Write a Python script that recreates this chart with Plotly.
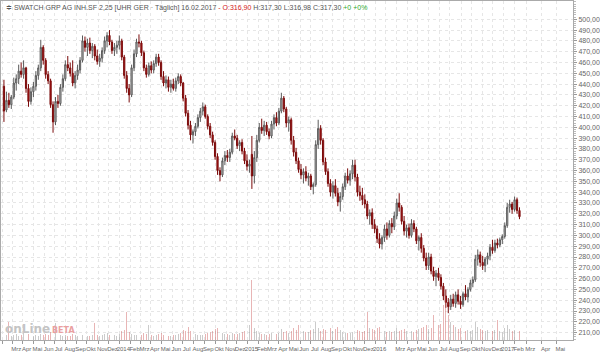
import numpy as np
import pandas as pd
import plotly.graph_objects as go

# ---------------- data (weekly candles) ----------------
start_week = "2013-02-04"
last_day = "2017-02-16"

opens = [438, 416, 425, 421, 428, 441, 445, 452, 449, 455,
         436, 424, 433, 438, 448, 455, 474, 462, 449, 443,
         421, 405, 424, 422, 437, 445, 458, 455, 450, 441,
         448, 453, 462, 480, 474, 478, 471, 475, 466, 461,
         464, 471, 480, 485, 479, 471, 474, 476, 480, 465,
         448, 436, 430, 455, 468, 479, 478, 469, 455, 449,
         457, 453, 459, 465, 460, 447, 441, 444, 437, 440,
         436, 443, 447, 441, 427, 413, 402, 393, 396, 401,
         409, 415, 419, 410, 401, 393, 386, 373, 360, 356,
         369, 374, 372, 377, 392, 390, 383, 386, 378, 369,
         364, 375, 355, 372, 388, 400, 397, 402, 396, 392,
         403, 409, 404, 415, 427, 417, 404, 407, 388, 377,
         369, 361, 356, 359, 353, 355, 345, 347, 384, 399,
         388, 368, 359, 348, 340, 346, 339, 331, 336, 345,
         355, 351, 357, 365, 354, 340, 337, 333, 329, 318,
         321, 310, 306, 297, 292, 298, 306, 300, 311, 308,
         318, 330, 326, 313, 304, 307, 300, 311, 306, 295,
         298, 288, 279, 272, 280, 267, 262, 265, 261, 253,
         244, 238, 234, 241, 237, 245, 239, 236, 246, 243,
         250, 256, 259, 278, 282, 275, 272, 278, 281, 289,
         286, 293, 291, 296, 299, 309, 326, 329, 324, 333,
         323]
highs = [444, 433, 432, 430, 446, 449, 458, 460, 462, 456,
         440, 437, 442, 452, 458, 481, 476, 464, 452, 445,
         424, 428, 430, 440, 449, 462, 466, 460, 462, 452,
         458, 465, 485, 484, 482, 483, 478, 477, 472, 468,
         474, 484, 488, 490, 481, 478, 480, 485, 482, 467,
         452, 440, 458, 472, 482, 486, 480, 471, 458, 460,
         461, 462, 468, 468, 462, 452, 448, 447, 444, 445,
         446, 450, 449, 442, 430, 416, 406, 398, 404, 412,
         418, 423, 421, 412, 404, 396, 388, 376, 363, 372,
         378, 379, 380, 395, 398, 393, 388, 389, 381, 375,
         370, 392, 378, 393, 404, 408, 406, 405, 399, 406,
         412, 414, 418, 432, 429, 419, 410, 409, 392, 381,
         372, 366, 362, 364, 358, 357, 349, 388, 407, 402,
         390, 372, 362, 352, 350, 352, 344, 340, 348, 358,
         362, 360, 370, 370, 357, 346, 344, 338, 332, 324,
         325, 315, 309, 302, 300, 310, 312, 314, 316, 322,
         334, 339, 328, 318, 310, 311, 315, 314, 308, 300,
         302, 291, 284, 284, 283, 271, 268, 270, 264, 256,
         250, 242, 245, 246, 248, 250, 244, 248, 254, 252,
         259, 262, 282, 287, 285, 281, 280, 284, 292, 296,
         296, 297, 298, 301, 312, 330, 333, 331, 336, 335,
         326]
lows = [405, 414, 418, 417, 426, 434, 440, 446, 445, 432,
        419, 421, 428, 434, 444, 452, 458, 445, 440, 418,
        395, 402, 418, 420, 433, 443, 452, 447, 438, 436,
        444, 450, 460, 470, 466, 468, 464, 462, 458, 456,
        460, 468, 474, 476, 468, 466, 468, 472, 462, 445,
        432, 423, 428, 452, 465, 474, 466, 452, 446, 447,
        450, 450, 456, 457, 444, 438, 436, 433, 432, 434,
        433, 440, 438, 424, 410, 398, 388, 385, 392, 399,
        405, 411, 408, 398, 390, 383, 370, 356, 350, 354,
        365, 368, 368, 375, 388, 380, 378, 375, 366, 360,
        358, 343, 348, 368, 386, 394, 392, 393, 389, 390,
        398, 401, 402, 413, 414, 400, 396, 384, 373, 366,
        358, 352, 348, 350, 346, 342, 338, 345, 380, 384,
        365, 356, 345, 336, 334, 336, 327, 322, 333, 342,
        348, 346, 352, 350, 336, 332, 328, 325, 315, 310,
        306, 302, 293, 288, 287, 294, 296, 298, 302, 305,
        315, 322, 310, 300, 298, 297, 298, 303, 292, 286,
        284, 276, 268, 268, 264, 258, 253, 258, 250, 240,
        233, 228, 231, 234, 233, 236, 232, 234, 240, 238,
        248, 252, 257, 272, 271, 268, 266, 273, 277, 283,
        284, 288, 289, 292, 297, 307, 321, 320, 322, 320,
        315]
closes = [415, 425, 421, 428, 441, 445, 452, 449, 455, 436,
          424, 433, 438, 448, 455, 474, 462, 449, 443, 421,
          405, 424, 422, 437, 445, 458, 455, 450, 441, 448,
          453, 462, 480, 474, 478, 471, 475, 466, 461, 464,
          471, 480, 485, 479, 471, 474, 476, 480, 465, 448,
          436, 430, 455, 468, 479, 478, 469, 455, 449, 457,
          453, 459, 465, 460, 447, 441, 444, 437, 440, 436,
          443, 447, 441, 427, 413, 402, 393, 396, 401, 409,
          415, 419, 410, 401, 393, 386, 373, 360, 356, 369,
          374, 372, 377, 392, 390, 383, 386, 378, 369, 364,
          366, 355, 372, 388, 400, 397, 402, 396, 392, 403,
          409, 404, 415, 427, 417, 404, 407, 388, 377, 369,
          361, 356, 359, 353, 355, 345, 347, 384, 399, 388,
          368, 359, 348, 340, 346, 339, 331, 336, 345, 355,
          351, 357, 365, 354, 340, 337, 333, 329, 318, 321,
          310, 306, 297, 292, 298, 306, 300, 311, 308, 318,
          330, 326, 313, 304, 307, 300, 311, 306, 295, 298,
          288, 279, 272, 280, 267, 262, 265, 261, 253, 244,
          238, 234, 241, 237, 245, 239, 236, 246, 243, 250,
          256, 259, 278, 282, 275, 272, 278, 281, 289, 286,
          293, 291, 296, 299, 309, 326, 329, 324, 333, 323,
          317.3]
volumes = [600, 500, 1800, 450, 500, 600, 400, 500, 700, 900,
           650, 500, 450, 500, 400, 600, 550, 600, 500, 800,
           1100, 1700, 600, 500, 450, 500, 400, 450, 600, 500,
           450, 400, 500, 600, 450, 400, 500, 1700, 500, 450,
           500, 600, 700, 500, 450, 500, 400, 600, 900, 1000,
           2800, 800, 600, 500, 500, 600, 500, 700, 600, 1500,
           500, 450, 500, 600, 700, 500, 500, 450, 400, 500,
           500, 600, 700, 1000, 900, 1300, 900, 700, 600, 500,
           500, 500, 600, 700, 800, 900, 1100, 1200, 900, 700,
           600, 600, 500, 700, 600, 600, 700, 800, 900, 2200,
           1500, 6000, 1200, 900, 700, 600, 600, 500, 600, 700,
           600, 600, 700, 1100, 800, 900, 700, 900, 1200, 1000,
           1500, 1200, 900, 800, 800, 1000, 1100, 1800, 1200, 900,
           1100, 1000, 1000, 1200, 900, 1100, 1300, 1000, 800, 700,
           700, 700, 800, 900, 1000, 900, 800, 900, 2800, 1200,
           1100, 1000, 1200, 1300, 1100, 900, 800, 900, 800, 900,
           1200, 900, 1000, 1100, 900, 800, 900, 800, 1000, 1100,
           1200, 1300, 1500, 1100, 1200, 2500, 1400, 1500, 1600, 3500,
           4500, 2500, 1800, 1500, 1300, 1100, 1200, 1000, 900, 1000,
           900, 1000, 1800, 1300, 1100, 1000, 900, 1000, 1100, 900,
           1000, 2000, 900, 800, 1200, 1500, 1100, 900, 1000, 1100,
           900]

month_names = ["Jan", "Feb", "Mrz", "Apr", "Mai", "Jun", "Jul", "Aug",
               "Sep", "Okt", "Nov", "Dez"]
hidden_labels = ["2013-02", "2016-02"]
price_ticks = list(range(210, 501, 10))
title_text = ("≑ SWATCH GRP AG INH.SF 2,25 [UHR GER · Täglich] 16.02.2017 "
              "<span style='color:#d42020'>- O:316,90</span> H:317,30 L:316,98 C:317,30 "
              "<span style='color:#2eaa2e'>+0 +0%</span>")

# ---------------- trading-day x scale ----------------
origin = np.datetime64("2013-01-01")
last = np.datetime64(last_day)


def xpos(d):
    d = np.datetime64(pd.Timestamp(d).date(), "D")
    if d <= last:
        return int(np.busday_count(origin, d))
    return int(np.busday_count(origin, last)) + int((d - last).astype(int))


weeks = pd.date_range(start_week, periods=len(closes), freq="W-MON")
xs = [xpos(w) + 2 for w in weeks]

months = pd.date_range("2013-02-01", "2017-05-01", freq="MS")
tickvals, ticktext = [], []
for m in months:
    tickvals.append(xpos(m))
    if m.strftime("%Y-%m") in hidden_labels:
        ticktext.append("")
    elif m.month == 1:
        ticktext.append(str(m.year))
    else:
        ticktext.append(month_names[m.month - 1])

vol_colors = ["rgba(205,90,90,0.45)" if c < o else "rgba(140,140,140,0.45)"
              for o, c in zip(opens, closes)]

fig = go.Figure()
fig.add_trace(go.Bar(x=xs, y=volumes, yaxis="y2", width=1.8,
                     marker=dict(color=vol_colors, line=dict(width=0)),
                     hoverinfo="skip", showlegend=False))
fig.add_trace(go.Candlestick(
    x=xs, open=opens, high=highs, low=lows, close=closes,
    increasing=dict(line=dict(color="#5a5a5a", width=1), fillcolor="#cfcfcf"),
    decreasing=dict(line=dict(color="#7a0a0a", width=1), fillcolor="#b41818"),
    whiskerwidth=0, showlegend=False))

font = dict(family="Liberation Sans, Arial, sans-serif", size=7, color="#666")
xfont = dict(family="Liberation Sans Narrow, Liberation Sans, Arial, sans-serif",
             size=6, color="#666")
fig.update_layout(
    width=600, height=352,
    margin=dict(l=0, r=20, t=1, b=12),
    paper_bgcolor="white", plot_bgcolor="white",
    separators=",.",
    font=font,
    showlegend=False,
    bargap=0,
    xaxis=dict(range=[20, 1185], tickvals=tickvals, ticktext=ticktext,
               tickangle=0,
               showgrid=True, gridcolor="#e6e6e6", griddash="dot", gridwidth=1,
               showline=True, linecolor="#aaaaaa", mirror=True,
               ticks="outside", ticklen=3, tickcolor="#999",
               ticklabelshift=4, zeroline=False,
               rangeslider=dict(visible=False), tickfont=xfont),
    yaxis=dict(side="right", range=[203.2, 516.9], tickvals=price_ticks,
               tickformat=".2f", showgrid=True, gridcolor="#e6e6e6",
               griddash="dot", gridwidth=1, showline=True, linecolor="#aaaaaa",
               mirror=True, ticks="outside", ticklen=3, tickcolor="#999",
               zeroline=False, tickfont=font,
               minor=dict(ticks="outside", ticklen=2, dtick=2, tickcolor="#bbb",
                          showgrid=False)),
    yaxis2=dict(overlaying="y", range=[0, 33900], autorange=False,
                showticklabels=False, showgrid=False, zeroline=False,
                showline=False, ticks=""),
)

fig.add_annotation(xref="paper", yref="paper", x=0.005, y=1.0, xanchor="left",
                   yanchor="top", yshift=-1, text=title_text, showarrow=False,
                   font=dict(family="Liberation Sans, Arial, sans-serif", size=7,
                             color="#555"))
fig.add_annotation(xref="paper", yref="paper", x=0.003, y=0.005, xanchor="left",
                   yanchor="bottom", text="<b>onLine</b>", showarrow=False,
                   font=dict(family="DejaVu Sans", size=12, color="#c4c4c4"))
fig.add_annotation(xref="paper", yref="paper", x=0.085, y=0.008, xanchor="left",
                   yanchor="bottom", text="<b>BETA</b>", showarrow=False,
                   font=dict(family="DejaVu Sans", size=8, color="#eaa0a0"))

fig.write_html("out.html")
